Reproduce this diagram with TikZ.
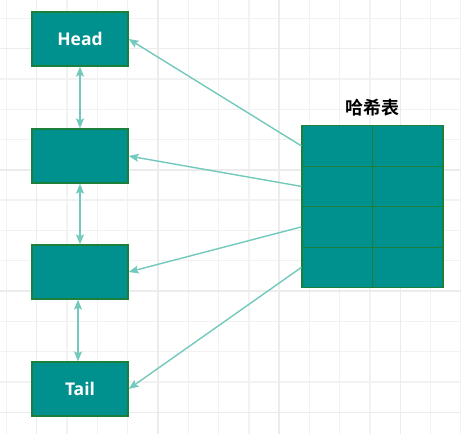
\documentclass[tikz,border=0pt]{standalone}
\usepackage{fontspec}
\setmainfont{Open Sans}
\newfontfamily\cjk{Noto Sans CJK SC}[BoldFont={Noto Sans CJK SC Bold}]
\usetikzlibrary{arrows.meta}
\definecolor{tealfill}{HTML}{00918E}
\definecolor{tealborder}{HTML}{1A803C}
\definecolor{linkcol}{HTML}{72C9BC}
\definecolor{gridminor}{HTML}{F2F2F2}
\definecolor{gridmajor}{HTML}{ECECEC}
\tikzset{
  listbox/.style={draw=tealborder, fill=tealfill, line width=1.3pt, minimum width=96pt, minimum height=54pt, inner sep=0pt, text=white, font=\bfseries\fontsize{17.5}{20}\selectfont},
  cellbox/.style={draw=tealborder, fill=tealfill, line width=1.3pt, minimum width=70.5pt, minimum height=40.5pt, inner sep=0pt},
  link/.style={draw=linkcol, line width=1.4pt, -{Stealth[length=10pt, width=8pt, inset=2pt]}},
  dlink/.style={draw=linkcol, line width=1.4pt, {Stealth[length=10pt, width=8pt, inset=2pt]}-{Stealth[length=10pt, width=8pt, inset=2pt]}}
}
\begin{document}
\begin{tikzpicture}[x=1pt, y=-1pt]
\useasboundingbox (0,0) rectangle (461,434);
\fill[white] (0,0) rectangle (461,434);
% grid
\foreach \k in {0,...,15} {
  \pgfmathsetmacro{\gx}{6.4+30.3*\k}
  \draw[gridminor, line width=1.4pt] (\gx,0) -- (\gx,434);
}
\foreach \k in {0,...,14} {
  \pgfmathsetmacro{\gy}{18.3+30.3*\k}
  \draw[gridminor, line width=1.4pt] (0,\gy) -- (461,\gy);
}
\foreach \k in {1,5,9,13} {
  \pgfmathsetmacro{\gx}{6.4+30.3*\k}
  \draw[gridmajor, line width=1.4pt] (\gx,0) -- (\gx,434);
  \pgfmathsetmacro{\gy}{18.3+30.3*\k}
  \draw[gridmajor, line width=1.4pt] (0,\gy) -- (461,\gy);
}
% list nodes
\node[listbox] (head) at (80,39) {Head};
\node[listbox] (n2) at (80,156) {};
\node[listbox] (n3) at (80,272) {};
\node[listbox] (tail) at (80,389) {Tail};
% hash table cells
\node[cellbox] (c11) at (337.3,145.9) {};
\node[cellbox] (c12) at (407.8,145.9) {};
\node[cellbox] (c21) at (337.3,186.4) {};
\node[cellbox] (c22) at (407.8,186.4) {};
\node[cellbox] (c31) at (337.3,226.9) {};
\node[cellbox] (c32) at (407.8,226.9) {};
\node[cellbox] (c41) at (337.3,267.4) {};
\node[cellbox] (c42) at (407.8,267.4) {};
\node[font=\cjk\bfseries\fontsize{18}{20}\selectfont] (title) at (372,108) {哈希表};
% connectors
\draw[dlink] (head.south) -- (n2.north);
\draw[dlink] (n2.south) -- (n3.north);
\draw[dlink] ([xshift=-2pt]n3.south) -- ([xshift=-2pt]tail.north);
\draw[link] (c11.west) -- (head.east);
\draw[link] (c21.west) -- (n2.east);
\draw[link] (c31.west) -- (n3.east);
\draw[link] (c41.west) -- (tail.east);
\end{tikzpicture}
\end{document}
